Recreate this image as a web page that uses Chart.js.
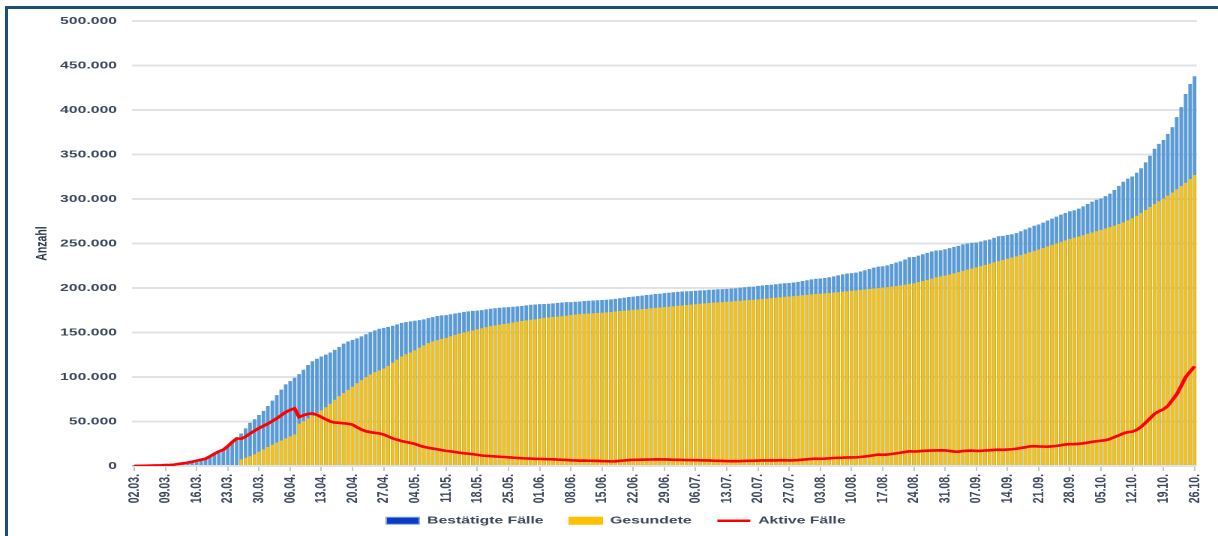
<!DOCTYPE html>
<html lang="de">

<head>
  <meta charset="UTF-8">
  <title>Corona in Deutschland</title>
  <style>
    html, body { margin: 0; padding: 0; background: #fff; overflow: hidden; width: 1218px; height: 536px; }
    .moldura { position: absolute; left: 5px; top: 6px; width: 1260px; height: 560px;
      border-left: 3px solid #1f4e79; border-top: 3px solid #1f4e79; }
    /* das Original ist horizontal gestreckt, daher 812px breit zeichnen und auf 1218px ziehen */
    .grafico { position: absolute; left: 0; top: 0; width: 812px; height: 536px;
      transform: scaleX(1.5); transform-origin: 0 0; }
  </style>
</head>

<body>
  <div class="moldura"></div>
  <div class="grafico">
    <canvas id="meuGrafico" width="812" height="536"></canvas>
  </div>

  <script src="https://cdn.jsdelivr.net/npm/chart.js"></script>
  <script>
    // Bestätigte Fälle, 02.03. - 26.10.
    const bestaetigt = [
      // März
      150, 188, 240, 349, 534, 684, 847, 1112, 1296, 1567, 2369, 3062, 3795, 4838, 6012, 7156, 8198, 10999, 13957, 16662,
      18610, 22672, 27436, 31554, 36508, 42288, 48582, 52547, 57298, 61913,
      // April
      67366, 73522, 79696, 85778, 91714, 95391, 99225, 103228, 108202, 113525, 117658, 120479, 123016, 125098, 127584,
      130450, 133830, 137439, 139897, 141672, 143457, 145694, 148046, 150383, 152438, 154175, 155193, 156337, 157641, 159119,
      // Mai
      160758, 161703, 162496, 163175, 163860, 164807, 166091, 167300, 168551, 169218, 169575, 170508, 171306, 172239, 173152,
      173772, 174355, 174697, 175210, 176007, 176752, 177212, 177850, 178281, 178570, 179002, 179364, 179717, 180458, 181196, 181482,
      // Juni
      181815, 182028, 182370, 182764, 183271, 183678, 184091, 184193, 184543, 184861, 185416, 185674, 186022, 186269, 186461,
      186839, 187184, 187764, 188534, 189135, 189822, 190359, 190862, 191449, 192079, 192556, 193243, 193499, 194259, 194725,
      // Juli
      195228, 195674, 196096, 196335, 196554, 196944, 197341, 197523, 198064, 198178, 198556, 198804, 199001, 199375, 199726,
      200260, 200843, 201372, 201574, 202345, 202799, 203368, 203717, 204183, 204964, 205269, 205623, 206242, 206926, 207828, 208698,
      // August
      209653, 210402, 210670, 211281, 212022, 213067, 214214, 215336, 216327, 216763, 217293, 218519, 219964, 221413, 222828,
      224014, 224488, 225404, 226914, 228621, 230048, 232082, 234494, 234853, 236429, 237936, 239507, 240986, 242126, 242381, 243599,
      // September
      244800, 246200, 247400, 249000, 250000, 250800, 251100, 252300, 253500, 254500, 256400, 258100, 258500, 259700, 260400,
      261700, 263700, 265900, 267800, 270000, 271400, 273500, 275900, 278000, 280200, 282500, 284300, 286200, 287400, 289200,
      // Oktober
      291700, 294400, 297000, 299200, 300600, 303300, 306100, 310100, 314700, 319400, 322900, 325300, 329500, 334600, 341200,
      348600, 356400, 362000, 366300, 373200, 380800, 392000, 403300, 418000, 429200, 437900
    ];

    const gesundet = [
      // März
      0, 0, 0, 0, 0, 0, 0, 0, 0, 0, 0, 0, 0, 0, 0, 0, 0, 0, 0, 0,
      0, 0, 0, 0, 7500, 9200, 11000, 13200, 16000, 18700,
      // April
      21400, 24000, 26400, 28700, 31000, 33300, 35500, 47500, 50500, 53500, 56500, 59500, 62500, 66000, 70000,
      74500, 78500, 82000, 85500, 89000, 93000, 96500, 100000, 103000, 105500, 107500, 109500, 112500, 116000, 119500,
      // Mai
      123000, 125500, 127500, 130000, 133000, 135500, 138000, 140000, 141500, 142800, 144000, 145800, 147300, 148800, 150200,
      151300, 152300, 153600, 154800, 156000, 157100, 158000, 158800, 159500, 160300, 161300, 162200, 162900, 163600, 164300, 164800,
      // Juni
      165600, 166400, 166900, 167400, 167800, 168200, 168900, 169600, 170200, 170600, 171000, 171300, 171600, 171900, 172200,
      172600, 173000, 173600, 174100, 174500, 174900, 175400, 175800, 176200, 176600, 177200, 177700, 178000, 178500, 179000,
      // Juli
      179500, 180000, 180500, 180900, 181300, 181800, 182300, 182700, 183100, 183500, 183800, 184100, 184500, 184900, 185300,
      185700, 186100, 186500, 186800, 187200, 187600, 188100, 188600, 189100, 189600, 190000, 190400, 190900, 191300, 191800, 192300,
      // August
      192800, 193200, 193600, 194000, 194400, 194900, 195400, 195900, 196300, 196700, 197200, 197700, 198300, 198900, 199400,
      199900, 200400, 201000, 201600, 202300, 203000, 203800, 204600, 205400, 206600, 207800, 209100, 210500, 211900, 213000, 214100,
      // September
      215200, 216500, 217900, 219300, 220600, 221900, 223200, 224600, 226000, 227400, 228800, 230200, 231500, 232900, 234200,
      235600, 237000, 238500, 240100, 241700, 243300, 245000, 246700, 248400, 250100, 251800, 253500, 255000, 256400, 257900,
      // Oktober
      259400, 260900, 262400, 263900, 265300, 266800, 268400, 270100, 271900, 273800, 276000, 278400, 281000, 284200, 287600,
      291000, 294400, 297500, 300500, 303800, 307300, 311000, 314600, 318300, 322500, 327000
    ];

    const aktiv = [
      // März
      150, 190, 240, 350, 530, 680, 840, 1100, 1280, 1550, 2340, 3030, 3750, 4780, 5950, 7080, 8100, 10850, 13750, 16400,
      18300, 22200, 26900, 30900, 30600, 33000, 36500, 39500, 42500, 45000,
      // April
      47500, 50500, 53500, 57000, 60500, 63000, 64800, 55000, 57000, 58500, 59000, 57500, 55000, 52500, 50000,
      48800, 48500, 48000, 47500, 46500, 43500, 41000, 39000, 38000, 37300, 36600, 35300, 33200, 31000, 29500,
      // Mai
      28000, 27000, 26000, 24800, 23000, 21500, 20500, 19600, 18800, 17800, 17000, 16400, 15700, 14900, 14300,
      13800, 13300, 12500, 11800, 11400, 11100, 10700, 10400, 10100, 9800, 9400, 9000, 8700, 8500, 8300, 8100,
      // Juni
      8000, 7800, 7600, 7500, 7200, 7000, 6800, 6400, 6200, 6000, 6100, 5900, 5800, 5700, 5500,
      5400, 5200, 5300, 5800, 6200, 6700, 6900, 7000, 7100, 7200, 7300, 7500, 7400, 7400, 7200,
      // Juli
      7000, 6900, 6800, 6700, 6600, 6500, 6400, 6200, 6200, 5900, 5800, 5700, 5500, 5400, 5400,
      5500, 5700, 5900, 5800, 6100, 6200, 6300, 6200, 6200, 6500, 6400, 6300, 6400, 6700, 7100, 7500,
      // August
      7900, 8200, 8100, 8300, 8600, 9000, 9200, 9300, 9600, 9600, 9700, 10100, 10700, 11300, 12100,
      12800, 12600, 12800, 13500, 14200, 14900, 15800, 16500, 16300, 16500, 16900, 17200, 17400, 17500, 17600, 17500,
      // September
      16900, 16200, 16100, 16800, 17200, 17300, 16900, 17100, 17400, 17600, 18000, 18300, 18200, 18500, 18800,
      19400, 20200, 21000, 22000, 22300, 22000, 21800, 21700, 22100, 22600, 23300, 24200, 24500, 24600, 24900,
      // Oktober
      25500, 26200, 27200, 27800, 28400, 29000, 30400, 32400, 34400, 36600, 38000, 38600, 40500, 44000, 48500,
      53500, 58500, 61500, 63700, 67500, 74000, 80500, 90000, 100000, 106000, 112000
    ];

    // beschriftete Tage auf der x-Achse (wöchentlich)
    const achsenTicks = ['02.03.', '09.03.', '16.03.', '23.03.', '30.03.', '06.04.', '13.04.', '20.04.', '27.04.',
      '04.05.', '11.05.', '18.05.', '25.05.', '01.06.', '08.06.', '15.06.', '22.06.', '29.06.', '06.07.', '13.07.',
      '20.07.', '27.07.', '03.08.', '10.08.', '17.08.', '24.08.', '31.08.', '07.09.', '14.09.', '21.09.', '28.09.',
      '05.10.', '12.10.', '19.10.', '26.10.'];

    const yTicks = [0, 50000, 100000, 150000, 200000, 250000, 300000, 350000, 400000, 450000, 500000];

    // Kategorien: ein Eintrag pro Tag
    const tage = [];
    for (let i = 0; i < bestaetigt.length; i++) {
      const d = new Date(2020, 2, 2 + i);
      tage.push(String(d.getDate()).padStart(2, '0') + '.' + String(d.getMonth() + 1).padStart(2, '0') + '.');
    }

    function tausender(v) {
      return String(v).replace(/\B(?=(\d{3})+(?!\d))/g, '.');
    }

    const textFarbe = '#3b475a';
    const schrift = 'Liberation Sans, Arial, sans-serif';
    const luecke = '\u00a0\u00a0\u00a0\u00a0'; // Abstand zwischen den Legenden-Einträgen

    const legendeStil = [
      { fillStyle: '#0b3bc6', strokeStyle: '#7eaadf', lineWidth: 1, pointStyle: 'rect' },
      { fillStyle: '#ffc000', strokeStyle: '#ffc000', lineWidth: 1, pointStyle: 'rect' },
      { fillStyle: '#ff0000', strokeStyle: '#ff0000', lineWidth: 2.5, pointStyle: 'line' }
    ];

    const config = {
      type: 'bar',
      data: {
        labels: tage,
        datasets: [{
          label: 'Bestätigte Fälle',
          data: bestaetigt,
          backgroundColor: '#5b9bd5',
          grouped: false,
          categoryPercentage: 1,
          barPercentage: 0.82,
          order: 2
        }, {
          label: 'Gesundete',
          data: gesundet,
          backgroundColor: '#ffc000',
          grouped: false,
          categoryPercentage: 1,
          barPercentage: 0.68,
          order: 1
        }, {
          type: 'line',
          label: 'Aktive Fälle',
          data: aktiv,
          borderColor: '#ff0000',
          backgroundColor: '#ff0000',
          borderWidth: 2.6,
          pointRadius: 0,
          tension: 0,
          order: 0
        }]
      },
      options: {
        responsive: false,
        animation: false,
        devicePixelRatio: 2,
        layout: { padding: { left: 20, right: 10.7, top: 21, bottom: 0 } },
        plugins: {
          tooltip: { enabled: false },
          legend: {
            position: 'bottom',
            labels: {
              usePointStyle: true,
              pointStyleWidth: 22,
              boxHeight: 7,
              padding: 5.5,
              color: textFarbe,
              font: { family: schrift, size: 10.5, weight: 'bold' },
              sort: (a, b) => a.datasetIndex - b.datasetIndex,
              generateLabels: function (chart) {
                const itens = Chart.defaults.plugins.legend.labels.generateLabels(chart);
                itens.forEach(function (item) {
                  Object.assign(item, legendeStil[item.datasetIndex]);
                  if (item.datasetIndex < 2) item.text = item.text + luecke;
                });
                return itens;
              }
            }
          }
        },
        scales: {
          x: {
            afterFit: function (s) { s.height = 44; },
            border: { display: false },
            grid: {
              offset: false,
              drawOnChartArea: false,
              drawTicks: true,
              tickLength: 5,
              lineWidth: 1,
              color: c => achsenTicks.includes(tage[c.index]) ? '#c3c8cf' : 'rgba(0,0,0,0)'
            },
            ticks: {
              autoSkip: false,
              minRotation: 90,
              maxRotation: 90,
              padding: 3,
              color: textFarbe,
              font: { family: schrift, size: 10.5, weight: 'bold' },
              callback: (v, i) => achsenTicks.includes(tage[i]) ? tage[i] : ''
            }
          },
          y: {
            min: 0,
            max: 500000,
            afterFit: function (s) { s.width = 68; },
            afterBuildTicks: function (s) { s.ticks = yTicks.map(v => ({ value: v })); },
            border: { display: false },
            grid: { color: '#dfe2e7', lineWidth: 2, drawTicks: false },
            ticks: {
              padding: 10,
              color: textFarbe,
              font: { family: schrift, size: 10.5, weight: 'bold' },
              callback: v => tausender(v)
            },
            title: {
              display: true,
              text: 'Anzahl',
              color: '#2e3a4c',
              padding: { top: 2, bottom: 0 },
              font: { family: schrift, size: 10.5, weight: 'bold' }
            }
          }
        }
      }
    };

    let meuGrafico = new Chart(document.getElementById('meuGrafico'), config);
  </script>
</body>

</html>
